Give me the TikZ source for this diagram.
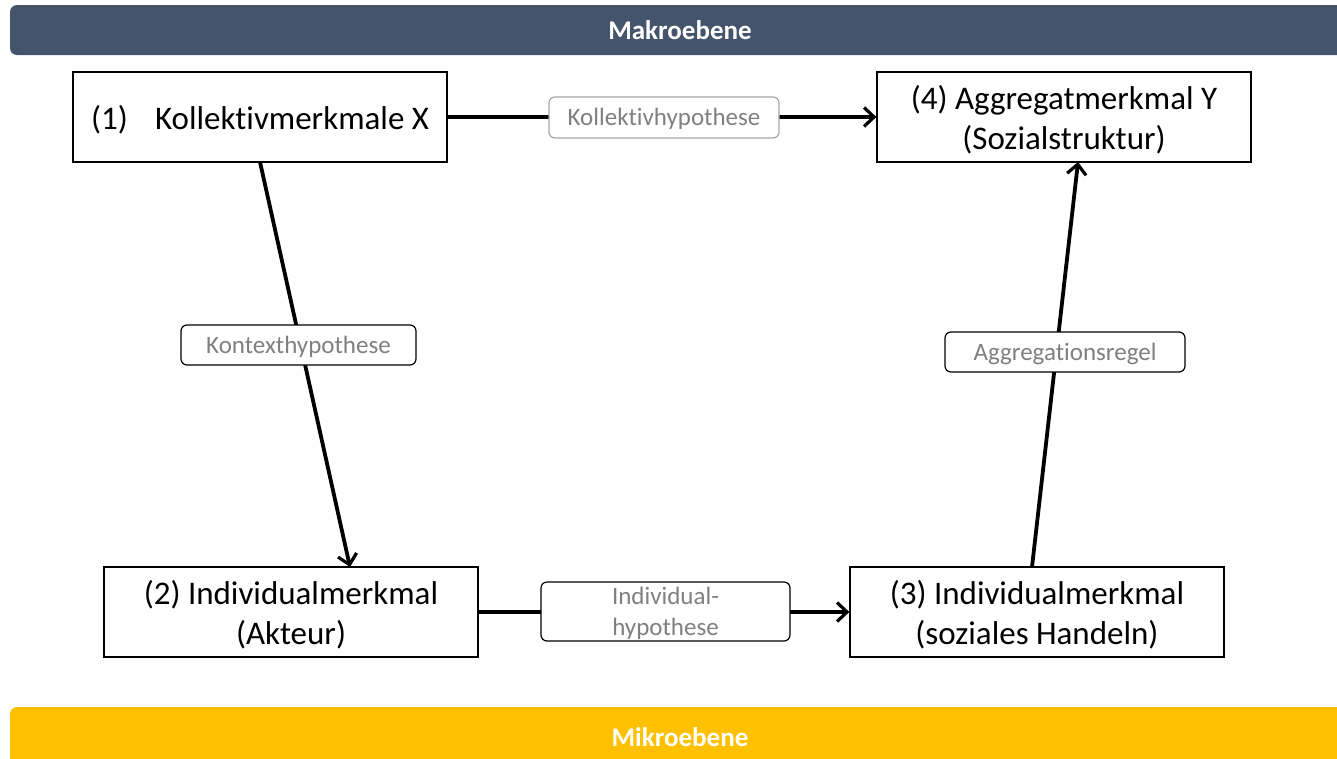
\documentclass[tikz,border=0pt]{standalone}
\usepackage{fontspec}
\setmainfont{Carlito}[Ligatures=NoCommon]
\usetikzlibrary{arrows.meta}
\definecolor{makro}{HTML}{44546A}
\definecolor{mikro}{HTML}{FFC000}
\definecolor{lbltext}{HTML}{808080}
\definecolor{lblline}{HTML}{A6A6A6}
\tikzset{
  mainbox/.style={draw=black, line width=1.3pt, fill=white, minimum width=374pt, minimum height=90pt, align=center, inner sep=0pt, text depth=0pt, font=\fontsize{33}{40}\selectfont},
  lbl/.style={draw=black, line width=1.2pt, rounded corners=6pt, fill=white, text=lbltext, inner sep=0pt, align=center, text depth=1pt, font=\fontsize{25}{31}\selectfont},
  conn/.style={line width=3.8pt, -{Straight Barb[length=10pt,width=19pt,line width=3.2pt]}},
  bar/.style={rounded corners=7pt, draw=none},
  bartext/.style={text=white, font=\fontsize{27}{30}\selectfont\bfseries}
}
\begin{document}
\begin{tikzpicture}[x=1pt,y=-1pt]
\useasboundingbox (0,0) rectangle (1337,758);
\begin{scope}
\clip (0,0) rectangle (1337,758);
\fill[bar, makro] (10,5) rectangle (1360,55);
\fill[bar, mikro] (10,707) rectangle (1360,775);
\end{scope}
\node[bartext] (makro) at (680,30) {Makroebene};
\node[bartext] (mikro) at (680,737) {Mikroebene};

\node[mainbox] (n1) at (260,117) {(1)\hspace{0.6em} Kollektivmerkmale X};
\node[mainbox] (n4) at (1064,117) {(4) Aggregatmerkmal Y\\(Sozialstruktur)};
\node[mainbox] (n2) at (291,612) {(2) Individualmerkmal\\(Akteur)};
\node[mainbox] (n3) at (1037,612) {(3) Individualmerkmal\\(soziales Handeln)};

\coordinate (s1) at (260,162);
\coordinate (e2) at (350,567);
\coordinate (s3) at (1032,567);
\coordinate (e4) at (1078,162);

\draw[conn] (n1.east) -- (n4.west);
\draw[conn] (s1) -- (e2);
\draw[conn] (n2.east) -- (n3.west);
\draw[conn] (s3) -- (e4);

\node[lbl, draw=lblline, minimum width=230pt, minimum height=41pt] (l1) at (664,117.5) {Kollektivhypothese};
\node[lbl, minimum width=235pt, minimum height=40pt] (l2) at (298.5,345) {Kontexthypothese};
\node[lbl, minimum width=240pt, minimum height=40pt] (l3) at (1065,352) {Aggregationsregel};
\node[lbl, minimum width=249pt, minimum height=59pt] (l4) at (665.5,611.5) {};
\node[text=lbltext, align=center, font=\fontsize{25}{31}\selectfont] (l4t) at (665.5,613) {Individual-\\hypothese};
\end{tikzpicture}
\end{document}
